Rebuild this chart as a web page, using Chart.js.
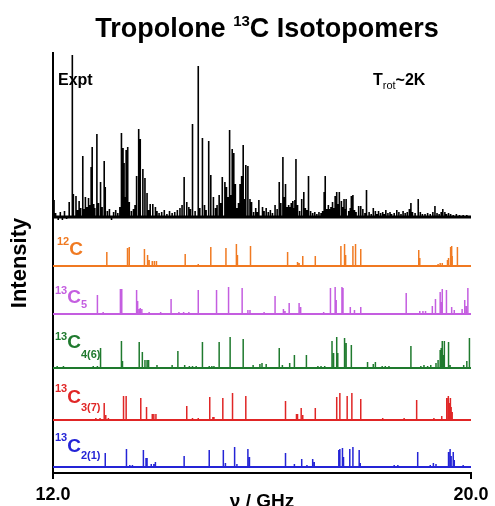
<!DOCTYPE html>
<html>
<head>
<meta charset="utf-8">
<script src="https://cdn.jsdelivr.net/npm/chart.js@4"></script>
<style>
  html, body { margin: 0; padding: 0; background: #fff; }
  #wrap { width: 495px; height: 506px; }
</style>
</head>
<body>
<div id="wrap"><canvas id="spec"></canvas></div>
<script>
// line positions (GHz) and heights
const exptFreq = [12.02,12.31,12.37,12.39,12.44,12.50,12.57,12.62,12.68,12.73,12.75,12.78,12.84,12.91,12.98,13.00,13.31,13.34,13.36,13.40,13.43,13.46,13.60,13.64,13.67,13.72,13.76,13.80,13.86,13.91,13.96,14.51,14.56,14.67,14.78,14.86,14.98,15.02,15.07,15.18,15.24,15.29,15.32,15.38,15.43,15.46,15.49,15.58,15.61,15.64,15.69,15.73,15.77,15.80,15.94,16.01,16.25,16.33,16.40,16.45,16.54,16.59,16.63,16.65,16.76,16.80,16.89,17.19,17.21,17.30,17.35,17.40,17.43,17.48,17.52,17.57,17.61,17.71,17.74,17.85,17.89,18.00,18.13,18.23,18.37,18.58,18.70,18.85,18.99,19.31,19.46,19.50];
const exptInt = [17,15,162,23,21,16,61,20,19,50,70,13,83,35,56,30,84,69,54,67,70,15,41,88,78,48,39,24,13,13,10,40,15,93,151,79,76,42,20,22,40,35,30,87,68,64,33,33,41,72,52,51,18,15,17,10,12,35,60,33,10,16,17,58,18,25,41,25,41,8,15,21,25,25,16,18,18,21,22,11,11,27,9,6,7,7,6,14,18,11,8,5];
// baseline noise of the experimental trace
const noiseFreq = [12.05,12.10,12.14,12.18,12.22,12.26,12.47,12.53,12.60,12.65,12.70,12.80,12.87,12.94,13.04,13.08,13.12,13.16,13.20,13.24,13.28,13.38,13.50,13.54,13.57,13.83,13.99,14.03,14.08,14.13,14.18,14.23,14.28,14.33,14.38,14.43,14.47,14.60,14.63,14.72,14.81,14.90,14.93,15.11,15.14,15.21,15.35,15.41,15.52,15.55,15.66,15.84,15.88,15.91,16.04,16.08,16.12,16.16,16.20,16.29,16.36,16.43,16.48,16.51,16.56,16.61,16.68,16.72,16.83,16.86,16.93,16.97,17.01,17.05,17.09,17.13,17.16,17.24,17.27,17.32,17.37,17.45,17.54,17.59,17.66,17.69,17.77,17.80,17.93,17.97,18.05,18.09,18.17,18.20,18.27,18.31,18.34,18.41,18.45,18.48,18.53,18.62,18.66,18.74,18.78,18.82,18.88,18.93,19.03,19.07,19.12,19.17,19.22,19.27,19.35,19.39,19.43,19.53,19.57,19.61,19.66,19.72,19.78,19.85,19.92];
const noiseInt = [4,-3,5,-3,6,-2,7,9,8,10,12,9,14,10,6,8,-3,5,7,4,10,20,6,8,12,7,6,4,5,7,3,6,4,5,7,9,12,10,8,6,9,12,7,9,12,14,20,22,9,14,18,5,9,5,6,9,5,7,4,8,14,20,10,12,14,9,12,6,9,7,6,4,5,3,5,4,6,8,12,10,9,13,10,8,6,9,7,5,8,4,5,3,6,3,4,5,3,4,5,3,4,5,3,4,5,8,5,4,5,3,3,4,3,5,4,3,5,3,4,3,2,3,2,2,2];

const c12Freq = [13.03,13.42,13.43,13.46,13.75,13.81,13.84,13.90,13.94,13.98,14.53,14.78,15.02,15.31,15.51,15.53,15.78,16.49,16.68,16.71,16.78,17.02,17.51,17.58,17.60,17.74,17.79,17.89,19.00,19.02,19.37,19.41,19.45,19.55,19.57,19.61,19.63,19.64,19.74];
const c12Int = [14,10,18,19,17,11,6,5,5,5,12,2,19,18,22,11,20,14,4,3,10,10,20,22,11,20,22,17,16,8,2,3,3,6,8,19,20,10,19];

const c5Freq = [12.85,12.96,13.29,13.31,13.32,13.60,13.62,13.65,13.67,13.70,13.84,14.06,14.26,14.41,14.50,14.60,14.78,15.13,15.36,15.62,15.73,15.77,16.04,16.25,16.41,16.44,16.52,16.71,16.74,17.18,17.31,17.40,17.42,17.53,17.55,17.69,17.77,17.89,18.76,19.02,19.08,19.13,19.26,19.32,19.41,19.43,19.45,19.53,19.63,19.68,19.83,19.88,19.91,19.94];
const c5Int = [19,2,25,25,17,24,13,5,6,5,2,2,15,2,2,2,24,24,27,26,4,4,2,18,5,3,11,11,7,2,26,27,14,27,26,7,4,7,21,3,3,3,8,15,22,12,25,24,7,4,5,14,8,26];

const c46Freq = [12.08,12.20,12.77,12.85,12.91,13.31,13.33,13.65,13.71,13.76,13.80,13.83,13.99,14.28,14.39,14.52,14.61,14.67,14.74,14.86,14.99,15.04,15.08,15.18,15.39,15.64,15.83,15.96,16.00,16.08,16.33,16.39,16.53,16.62,16.85,17.07,17.13,17.20,17.34,17.37,17.43,17.45,17.58,17.61,17.71,18.02,18.13,18.17,18.30,18.36,18.43,18.85,19.04,19.10,19.17,19.23,19.33,19.37,19.41,19.43,19.45,19.47,19.49,19.57,19.60,19.86,19.92,19.97];
const c46Int = [2,2,2,2,20,27,7,26,16,8,8,8,3,3,17,3,2,2,2,26,2,2,2,26,31,29,3,4,5,4,20,3,5,13,13,2,2,2,27,15,31,15,30,25,23,6,4,6,2,2,2,22,2,3,2,3,5,8,18,20,27,13,27,26,3,3,7,30];

const c37Freq = [12.82,12.90,12.98,13.01,13.06,13.35,13.40,13.68,13.79,13.90,13.93,13.97,14.56,14.67,14.78,15.00,15.06,15.08,15.25,15.43,15.44,15.69,16.45,16.66,16.68,16.75,16.78,17.02,17.43,17.49,17.63,17.72,17.89,18.31,18.72,18.96,19.29,19.44,19.53,19.54,19.56,19.57,19.59,19.60,19.61,19.62,19.64];
const c37Int = [2,2,17,5,2,24,24,22,13,6,6,6,14,2,2,23,3,3,22,27,27,24,19,6,6,12,5,12,23,27,24,27,21,2,2,20,2,4,22,18,24,20,17,22,15,13,8];

const c21Freq = [13.00,13.40,13.41,13.47,13.52,13.73,13.78,13.80,13.88,13.93,13.96,14.51,14.99,15.26,15.30,15.47,15.48,15.52,15.73,15.76,16.45,16.62,16.76,16.86,16.97,17.00,17.47,17.49,17.54,17.56,17.68,17.74,17.86,17.88,18.53,18.60,18.98,19.22,19.28,19.33,19.57,19.60,19.62,19.66,19.68,19.85];
const c21Int = [14,18,18,2,2,17,9,9,3,3,5,11,17,17,4,20,20,3,18,10,14,3,8,2,8,5,17,18,19,10,18,20,17,4,2,2,15,2,4,3,15,18,11,15,7,2];

const xTicks = [12, 20];

const FONT = '"Liberation Sans", Arial, sans-serif';
Chart.defaults.font.family = FONT;

// series layout: vertical offset of each trace inside the y range 0..420
const series = [
  { freq: exptFreq.concat(noiseFreq), inten: exptInt.concat(noiseInt), base: 256, color: '#000000', stick: 1.6, line: 3 },
  { freq: c12Freq, inten: c12Int, base: 207, color: '#f07a22', stick: 1.5, line: 2 },
  { freq: c5Freq, inten: c5Int, base: 159, color: '#c45ee0', stick: 1.5, line: 2 },
  { freq: c46Freq, inten: c46Int, base: 105, color: '#1f7a2e', stick: 1.5, line: 2 },
  { freq: c37Freq, inten: c37Int, base: 53, color: '#e02626', stick: 1.5, line: 2 },
  { freq: c21Freq, inten: c21Int, base: 6, color: '#2424d6', stick: 1.5, line: 2 }
];

function stickTrace(freq, inten, base) {
  const pts = freq.map((f, i) => [f, inten[i]]).sort((a, b) => a[0] - b[0]);
  const out = [{ x: xTicks[0], y: base }];
  pts.forEach(([f, h]) => {
    out.push({ x: f, y: base }, { x: f, y: base + h }, { x: f, y: base });
  });
  out.push({ x: xTicks[1], y: base });
  return out;
}

const datasets = [];
series.forEach(s => {
  datasets.push({
    data: stickTrace(s.freq, s.inten, s.base),
    borderColor: s.color, borderWidth: s.stick, pointRadius: 0, tension: 0
  });
  datasets.push({
    data: [{ x: xTicks[0], y: s.base }, { x: xTicks[1], y: s.base }],
    borderColor: s.color, borderWidth: s.line, pointRadius: 0
  });
});

// bold text with super/subscripts: parts = [text, size, dy, weight]
function rich(ctx, x, y, parts, color, align) {
  ctx.save();
  ctx.fillStyle = color;
  ctx.textBaseline = 'alphabetic';
  ctx.textAlign = 'left';
  let w = 0;
  parts.forEach(p => { ctx.font = (p[3] || 'bold') + ' ' + p[1] + 'px ' + FONT; w += ctx.measureText(p[0]).width; });
  let cx = align === 'center' ? x - w / 2 : x;
  parts.forEach(p => {
    ctx.font = (p[3] || 'bold') + ' ' + p[1] + 'px ' + FONT;
    ctx.fillText(p[0], cx, y + p[2]);
    cx += ctx.measureText(p[0]).width;
  });
  ctx.restore();
}

const labels = {
  id: 'labels',
  afterDraw(chart) {
    const ctx = chart.ctx;
    rich(ctx, 267, 37, [['Tropolone ', 27, 0], ['13', 15, -11], ['C Isotopomers', 27, 0]], '#000', 'center');
    rich(ctx, 58, 85, [['Expt', 16, 0]], '#000');
    rich(ctx, 373, 85, [['T', 16, 0], ['rot', 11, 4, 'normal'], ['~2K', 16, 0]], '#000');
    rich(ctx, 57, 245, [['12', 11, 0], ['C', 19, 10]], '#f07a22');
    rich(ctx, 55, 294, [['13', 11, 0], ['C', 19, 9], ['5', 11, 14]], '#c45ee0');
    rich(ctx, 55, 340, [['13', 11, 0], ['C', 19, 8], ['4(6)', 11, 18]], '#1f7a2e');
    rich(ctx, 55, 392, [['13', 11, 0], ['C', 19, 11], ['3(7)', 11, 19]], '#e02626');
    rich(ctx, 55, 441, [['13', 11, 0], ['C', 19, 11], ['2(1)', 11, 18]], '#2424d6');
  }
};

new Chart(document.getElementById('spec'), {
  type: 'line',
  data: { datasets: datasets },
  options: {
    responsive: true,
    maintainAspectRatio: false,
    animation: false,
    events: [],
    layout: { padding: { top: 53, right: 24, left: 0, bottom: 0 } },
    plugins: { legend: { display: false }, tooltip: { enabled: false } },
    scales: {
      x: {
        type: 'linear',
        min: 12,
        max: 20,
        afterBuildTicks: scale => { scale.ticks = xTicks.map(v => ({ value: v })); },
        afterFit: scale => { scale.height = 33; },
        ticks: {
          autoSkip: false, maxRotation: 0, padding: 5, color: '#000',
          font: { size: 18, weight: 'bold' },
          callback: v => v.toFixed(1)
        },
        grid: { display: true, drawOnChartArea: false, drawTicks: true, tickLength: 6, color: '#000', lineWidth: 2 },
        border: { display: true, color: '#000', width: 2 },
        title: { display: true, text: 'ν / GHz', color: '#000', font: { size: 19, weight: 'bold' }, padding: { top: 0, bottom: -7 } }
      },
      y: {
        min: 0,
        max: 420,
        afterFit: scale => { scale.width = 53; },
        ticks: { display: false },
        grid: { display: false },
        border: { display: true, color: '#000', width: 2 },
        title: { display: true, text: 'Intensity', color: '#000', font: { size: 22, weight: 'bold' }, padding: { top: 7, bottom: 0 } }
      }
    }
  },
  plugins: [labels]
});
</script>
</body>
</html>
